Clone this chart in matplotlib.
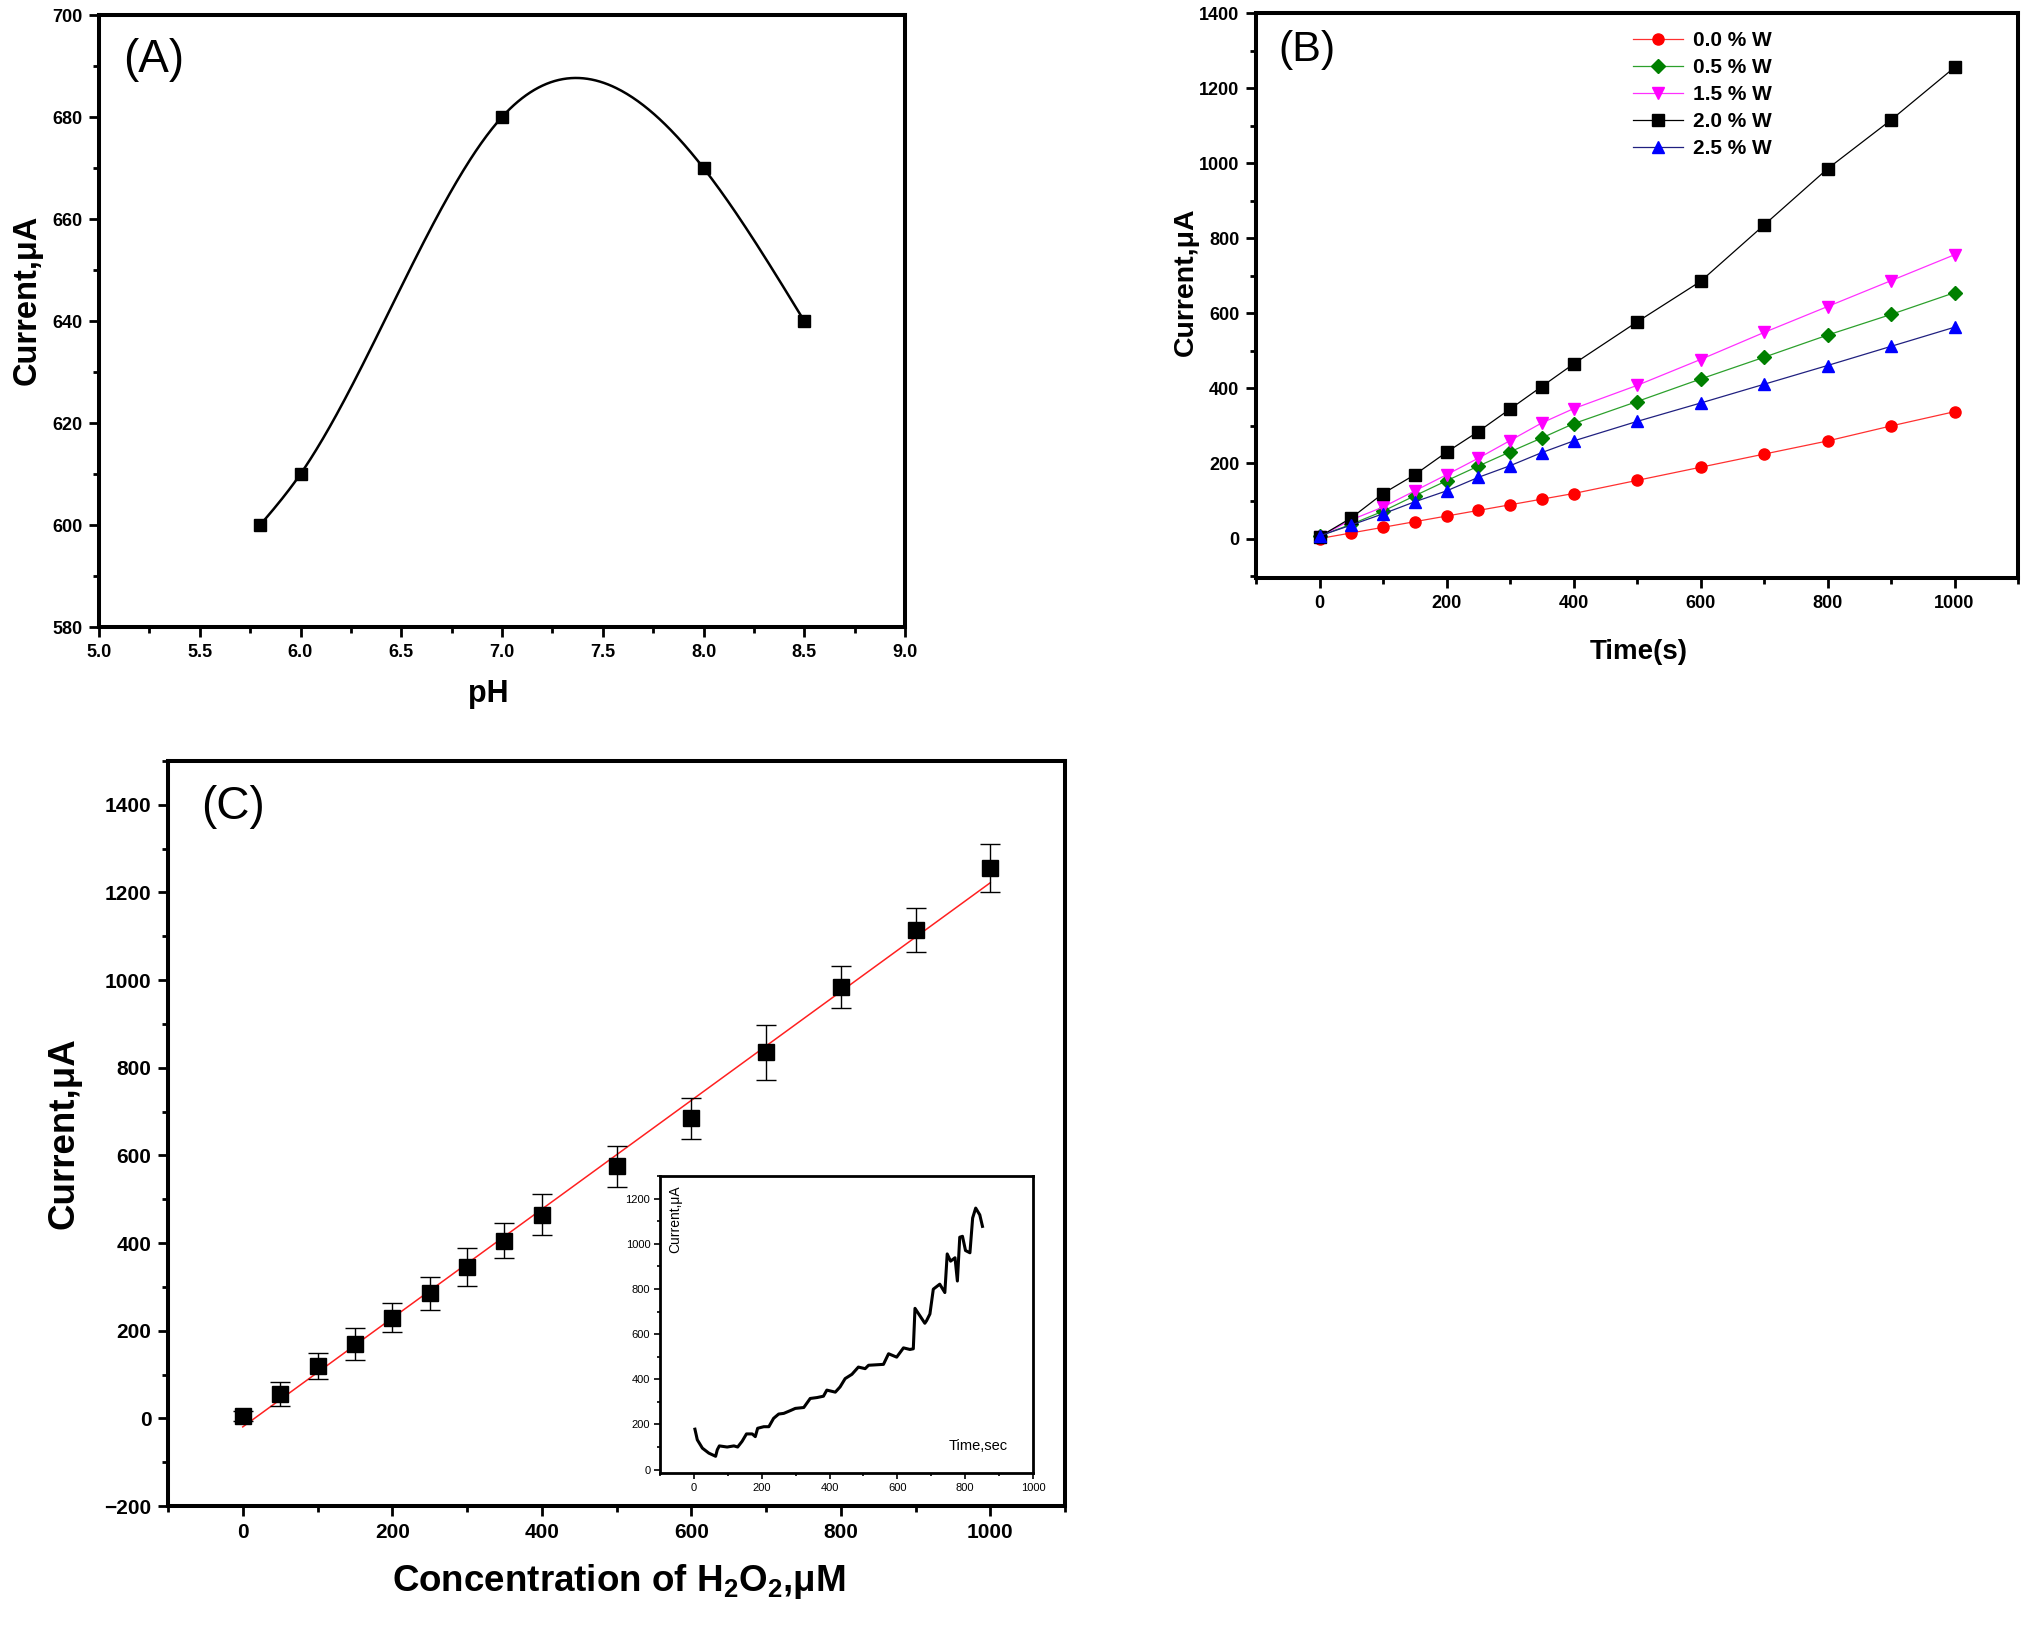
import numpy as np
import matplotlib
matplotlib.use("Agg")
import matplotlib.pyplot as plt
from matplotlib.ticker import MultipleLocator

plt.rcParams['font.family'] = ['Liberation Sans', 'DejaVu Sans']
plt.rcParams['mathtext.fontset'] = 'custom'
plt.rcParams['mathtext.rm'] = 'Liberation Sans'
plt.rcParams['mathtext.bf'] = 'Liberation Sans:bold'
plt.rcParams['mathtext.default'] = 'bf'

# ---------------- data ----------------
# Panel A
ph_values = [5.8, 6.0, 7.0, 8.0, 8.5]
ph_current = [600, 610, 680, 670, 640]

# Panel B
time_s = [0, 50, 100, 150, 200, 250, 300, 350, 400, 500, 600, 700, 800, 900, 1000]
cur_00W = [0, 15, 30, 45, 60, 75, 90, 105, 120, 155, 190, 225, 260, 300, 338]
cur_05W = [7, 38, 73, 114, 154, 193, 231, 268, 306, 365, 425, 483, 542, 597, 655]
cur_15W = [5, 50, 84, 127, 170, 214, 261, 308, 346, 408, 477, 549, 618, 687, 756]
cur_20W = [5, 55, 120, 170, 230, 285, 345, 405, 465, 577, 685, 835, 985, 1115, 1255]
cur_25W = [7, 36, 66, 98, 127, 163, 194, 229, 260, 312, 361, 411, 461, 512, 563]
legend_labels = ['0.0 % W', '0.5 % W', '1.5 % W', '2.0 % W', '2.5 % W']

# Panel C
conc_uM = [0, 50, 100, 150, 200, 250, 300, 350, 400, 500, 600, 700, 800, 900, 1000]
conc_current = [5, 55, 120, 170, 230, 285, 345, 405, 465, 575, 685, 835, 985, 1115, 1255]
conc_err = [12, 27, 30, 37, 33, 37, 44, 40, 47, 47, 47, 62, 48, 50, 55]

# Inset (amperometric trace)
inset_time = [3, 10, 25, 44, 64, 69, 75, 98, 118, 129, 142, 155, 172, 181, 188, 206, 221,
              235, 250, 265, 284, 299, 324, 343, 363, 382, 392, 417, 431, 446, 466, 485,
              505, 515, 559, 574, 598, 618, 637, 647, 652, 681, 686, 696, 706, 725, 740,
              747, 757, 770, 777, 784, 792, 801, 814, 822, 831, 843, 851]
inset_current = [179, 132, 95, 73, 59, 88, 105, 100, 105, 100, 125, 158, 158, 146, 183, 190,
                 190, 227, 246, 249, 261, 271, 275, 315, 319, 325, 352, 343, 366, 403, 422,
                 454, 447, 462, 466, 513, 498, 539, 532, 535, 714, 648, 659, 689, 799, 821,
                 784, 955, 923, 938, 835, 1029, 1033, 970, 960, 1114, 1158, 1128, 1077]


def natural_cubic_spline(x, y, xs):
    x = np.asarray(x, float); y = np.asarray(y, float)
    n = len(x)
    h = np.diff(x)
    d = np.diff(y) / h
    A = np.zeros((n, n)); r = np.zeros(n)
    A[0, 0] = 1; A[-1, -1] = 1
    for i in range(1, n - 1):
        A[i, i - 1] = h[i - 1]
        A[i, i] = 2 * (h[i - 1] + h[i])
        A[i, i + 1] = h[i]
        r[i] = 6 * (d[i] - d[i - 1])
    M = np.linalg.solve(A, r)
    out = np.empty_like(xs)
    for k, xv in enumerate(xs):
        i = min(max(np.searchsorted(x, xv) - 1, 0), n - 2)
        t = xv - x[i]
        b = d[i] - h[i] * (2 * M[i] + M[i + 1]) / 6
        out[k] = y[i] + b * t + M[i] / 2 * t ** 2 + (M[i + 1] - M[i]) / (6 * h[i]) * t ** 3
    return out


def style_axes(ax, fs, spw=2.9, maj=7, mnr=4, tw=2.0, pad=5, bold=True):
    for s in ax.spines.values():
        s.set_linewidth(spw)
    ax.tick_params(which='both', direction='out', top=False, right=False, width=tw)
    ax.tick_params(which='major', length=maj, labelsize=fs, pad=pad)
    ax.tick_params(which='minor', length=mnr)
    if bold:
        for lab in ax.get_xticklabels() + ax.get_yticklabels():
            lab.set_fontweight('bold')


fig = plt.figure(figsize=(20.32, 16.38), dpi=100)

# ---------------- Panel A ----------------
axA = fig.add_axes([99 / 2032, 1 - 627 / 1638, 806 / 2032, 612 / 1638])
xs = np.linspace(ph_values[0], ph_values[-1], 400)
axA.plot(xs, natural_cubic_spline(ph_values, ph_current, xs), color='black', lw=1.8)
axA.plot(ph_values, ph_current, 's', color='black', ms=9)
axA.set_xlim(5.0, 9.0)
axA.set_ylim(580, 700)
axA.xaxis.set_major_locator(MultipleLocator(0.5))
axA.xaxis.set_minor_locator(MultipleLocator(0.25))
axA.yaxis.set_major_locator(MultipleLocator(20))
axA.yaxis.set_minor_locator(MultipleLocator(10))
axA.xaxis.set_major_formatter(matplotlib.ticker.FormatStrFormatter('%.1f'))
style_axes(axA, 13)
axA.set_xlabel('pH', fontsize=22, fontweight='bold')
axA.set_ylabel('Current,μA', fontsize=23.5, fontweight='bold')
axA.xaxis.set_label_coords(0.483, -0.085)
axA.yaxis.set_label_coords(-0.07, 0.535)
axA.xaxis.label.set_va('top')
axA.text(0.03, 0.962, '(A)', transform=axA.transAxes, fontsize=33, va='top', ha='left')

# ---------------- Panel B ----------------
axB = fig.add_axes([1256 / 2032, 1 - 578 / 1638, 762 / 2032, 565 / 1638])
series = [cur_00W, cur_05W, cur_15W, cur_20W, cur_25W]
colors = ['#ff0000', '#008000', '#ff00ff', '#000000', '#0000ff']
line_colors = ['#ff3030', '#2ca02c', '#ff30ff', '#000000', '#202080']
markers = ['o', 'D', 'v', 's', '^']
msizes = [8, 7.5, 9, 8, 9]
for vals, c, lc, m, msz, lab in zip(series, colors, line_colors, markers, msizes, legend_labels):
    axB.plot(time_s, vals, color=lc, lw=0.9, marker=m, ms=msz, mfc=c, mec=c, label=lab)
axB.set_xlim(-100, 1100)
axB.set_ylim(-105, 1400)
axB.xaxis.set_major_locator(MultipleLocator(200))
axB.xaxis.set_minor_locator(MultipleLocator(100))
axB.yaxis.set_major_locator(MultipleLocator(200))
axB.yaxis.set_minor_locator(MultipleLocator(100))
style_axes(axB, 13)
axB.set_xlabel('Time(s)', fontsize=20, fontweight='bold')
axB.set_ylabel('Current,μA', fontsize=20.5, fontweight='bold')
axB.xaxis.set_label_coords(0.502, -0.108)
axB.xaxis.label.set_va('top')
axB.yaxis.set_label_coords(-0.075, 0.524)
axB.text(0.03, 0.97, '(B)', transform=axB.transAxes, fontsize=31, va='top', ha='left')
leg = axB.legend(loc='upper left', bbox_to_anchor=(0.478, 0.99), frameon=False,
                 prop={'size': 15, 'weight': 'bold'}, handlelength=2.4,
                 handletextpad=0.5, labelspacing=0.38, borderaxespad=0.2)

# ---------------- Panel C ----------------
axC = fig.add_axes([168 / 2032, 1 - 1506 / 1638, 897 / 2032, 745 / 1638])
slope, intercept = np.polyfit(conc_uM, conc_current, 1)
fx = np.array([conc_uM[0], conc_uM[-1]], float)
axC.plot(fx, slope * fx + intercept, color='#ff2020', lw=1.1, zorder=2)
axC.errorbar(conc_uM, conc_current, yerr=conc_err, fmt='s', color='black', ms=12,
             ecolor='black', elinewidth=1.0, capsize=7, capthick=1.0, zorder=3)
axC.set_xlim(-100, 1100)
axC.set_ylim(-200, 1500)
axC.xaxis.set_major_locator(MultipleLocator(200))
axC.xaxis.set_minor_locator(MultipleLocator(100))
axC.yaxis.set_major_locator(MultipleLocator(200))
axC.yaxis.set_minor_locator(MultipleLocator(100))
style_axes(axC, 15)
axC.set_xlabel('Concentration of H$_{2}$O$_{2}$,μM', fontsize=26.5, fontweight='bold')
axC.set_ylabel('Current,μA', fontsize=26.5, fontweight='bold')
axC.xaxis.set_label_coords(0.502, -0.075)
axC.xaxis.label.set_va('top')
axC.yaxis.set_label_coords(-0.096, 0.5)
axC.text(0.037, 0.968, '(C)', transform=axC.transAxes, fontsize=33, va='top', ha='left')

# ---------------- Inset ----------------
axI = fig.add_axes([660 / 2032, 1 - 1473 / 1638, 373 / 2032, 297 / 1638])
axI.plot(inset_time, inset_current, color='black', lw=2.2)
axI.set_xlim(-100, 1000)
axI.set_ylim(-15, 1300)
axI.xaxis.set_major_locator(MultipleLocator(200))
axI.xaxis.set_minor_locator(MultipleLocator(100))
axI.yaxis.set_major_locator(MultipleLocator(200))
axI.yaxis.set_minor_locator(MultipleLocator(100))
style_axes(axI, 8, spw=2.0, maj=4, mnr=2.5, tw=1.2, pad=3, bold=False)
axI.text(0.04, 0.97, 'Current,μA', transform=axI.transAxes, rotation=90,
         fontsize=10, va='top', ha='center')
axI.text(0.775, 0.077, 'Time,sec', transform=axI.transAxes, fontsize=10.5,
         va='baseline', ha='left')

fig.savefig('out.png', dpi=100)
